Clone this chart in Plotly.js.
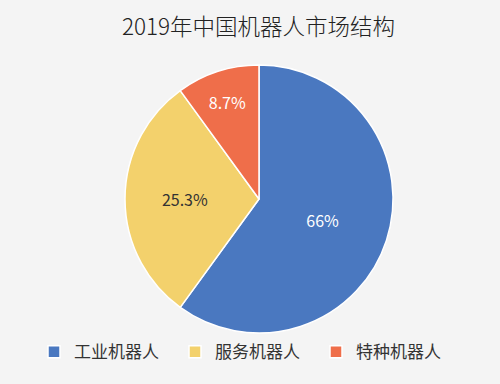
<!DOCTYPE html>
<html>
<head>
<meta charset="utf-8">
<script src="https://cdn.plot.ly/plotly-3.0.1.min.js"></script>
<style>html,body{margin:0;padding:0;background:#f4f4f4;}#chart{width:500px;height:384px;}</style>
</head>
<body>
<div id="chart"></div>
<script>
// Data
var categories = ['工业机器人', '服务机器人', '特种机器人'];
var sliceShares = [60, 30, 10];           // slice sizes as drawn in the picture
var shareLabels = ['66%', '25.3%', '8.7%']; // labels printed on the slices
var colors = ['#4a78c0', '#f3d16c', '#ef6e4a'];
var labelColors = ['#ffffff', '#333333', '#ffffff'];

var trace = {
  type: 'pie',
  labels: categories,
  values: sliceShares,
  text: shareLabels,
  textinfo: 'text',
  textposition: 'inside',
  insidetextorientation: 'horizontal',
  insidetextfont: {family: '"Noto Sans CJK SC", "Noto Sans", sans-serif', size: 16, color: labelColors},
  marker: {colors: colors, line: {color: '#ffffff', width: 1.5}},
  sort: false,
  direction: 'clockwise',
  rotation: 0,
  hoverinfo: 'none',
  domain: {x: [0.25, 0.786], y: [0.1328, 0.8307]}
};

var layout = {
  width: 500,
  height: 384,
  margin: {l: 0, r: 0, t: 0, b: 0},
  paper_bgcolor: '#f4f4f4',
  plot_bgcolor: '#f4f4f4',
  title: {
    text: '2019年中国机器人市场结构',
    font: {family: '"Noto Sans CJK SC", sans-serif', size: 22.5, color: '#222222', weight: 300},
    x: 0.517, xanchor: 'center', y: 0.93, yanchor: 'middle'
  },
  showlegend: true,
  legend: {
    orientation: 'h',
    x: 0.068, xanchor: 'left',
    y: 0.083, yanchor: 'middle',
    font: {family: '"Noto Sans CJK SC", sans-serif', size: 17, color: '#333333'},
    entrywidth: 96, entrywidthmode: 'pixels',
    bgcolor: 'rgba(0,0,0,0)',
    traceorder: 'normal'
  }
};

Plotly.newPlot('chart', [trace], layout, {displayModeBar: false, staticPlot: true});
</script>
</body>
</html>
